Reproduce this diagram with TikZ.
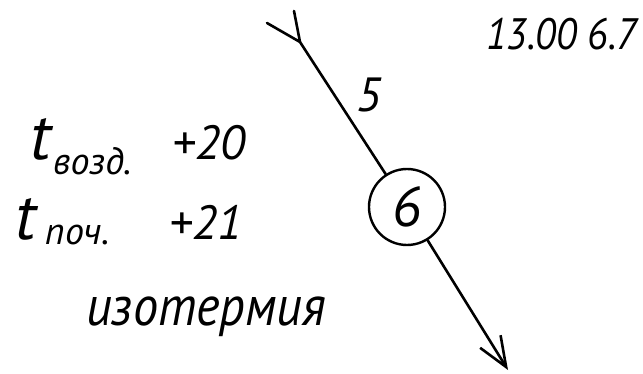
\documentclass[tikz,border=0pt]{standalone}
\usepackage{fontspec}
\newfontfamily\hand{PT Sans}
\newfontfamily\handc{PT Sans}[FakeStretch=0.9]
\usetikzlibrary{arrows.meta}
\tikzset{
  txt/.style={inner sep=0pt, anchor=base west, font=\hand\itshape},
  stroke/.style={line width=2.6pt, line cap=round, line join=round},
  station/.style={draw, circle, line width=2.4pt, minimum size=76pt, inner sep=0pt, font=\hand\itshape\fontsize{56}{56}\selectfont}
}
\begin{document}
\begin{tikzpicture}[x=1pt,y=-1pt]
\useasboundingbox (0,0) rectangle (643,374);
% texts
\node[txt, font=\handc\itshape\fontsize{44}{44}\selectfont] (time) at (486,50) {13.00 6.7};
\node[txt, font=\hand\itshape\fontsize{48}{48}\selectfont, anchor=center] (five) at (369,95) {5};
\node[txt, font=\hand\itshape\fontsize{66}{66}\selectfont] (t1) at (30,160) {t};
\node[txt, font=\hand\itshape\fontsize{38}{38}\selectfont] (s1) at (53,175) {возд.};
\node[txt, font=\hand\itshape\fontsize{48}{48}\selectfont] (v1) at (172,160) {+20};
\node[txt, font=\hand\itshape\fontsize{66}{66}\selectfont] (t2) at (15,240) {t};
\node[txt, font=\hand\itshape\fontsize{38}{38}\selectfont] (s2) at (45,245) {поч.};
\node[txt, font=\hand\itshape\fontsize{48}{48}\selectfont] (v2) at (169,240) {+21};
\node[txt, font=\handc\itshape\fontsize{56}{56}\selectfont] (iso) at (86,325) {изотермия};
% route
\node[station] (c6) at (407,207) {6};
\coordinate (tail) at (300,42);
\coordinate (f1) at (294,11);
\coordinate (f2) at (267,23);
\coordinate (tip) at (508,370);
\draw[stroke] (f1) -- (tail) -- (f2);
\draw[stroke] (tail) -- (c6);
\draw[stroke, -{Straight Barb[length=30pt,width=24pt,line width=2.6pt]}] (c6) -- (tip);
\end{tikzpicture}
\end{document}
